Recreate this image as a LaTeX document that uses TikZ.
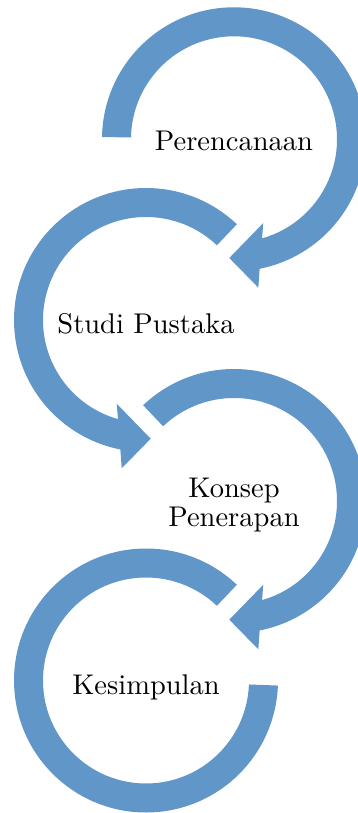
\documentclass[tikz,border=0pt]{standalone}
\usepackage{fontspec}
\setmainfont{lmroman10-regular}[Extension=.otf]
\usetikzlibrary{calc}
\begin{document}
\begin{tikzpicture}[x=1pt,y=-1pt,
  ringfill/.style={fill=ringblue,draw=none},
  lbl/.style={text=black,inner sep=0pt,font=\fontsize{28.5}{29}\selectfont}]
\definecolor{ringblue}{RGB}{97,150,200}
\useasboundingbox (0,0) rectangle (358,813);
\clip (0,0) rectangle (358,813);
\coordinate (c1) at (234,139.3);
\coordinate (c2) at (146,320);
\coordinate (c3) at (234,501);
\coordinate (c4) at (146,680.5);
% circle 1: starts at left, clockwise, arrowhead at bottom
\fill[ringfill] ($(c1)+(181:132)$) arc[start angle=181,end angle=438.8,radius=132]
  -- ($(c1)+(24.3,148.3)$) -- ($(c1)+(-4.7,118.7)$) -- ($(c1)+(29.3,83.7)$)
  -- ($(c1)+(434.2:103)$) arc[start angle=434.2,end angle=181,radius=103] -- cycle;
% circle 2: starts upper right, counterclockwise, arrowhead at bottom
\fill[ringfill] ($(c2)+(313.5:132)$) arc[start angle=313.5,end angle=101.2,radius=132]
  -- ($(c2)+(-24.3,148.3)$) -- ($(c2)+(4.7,118.7)$) -- ($(c2)+(-29.3,83.7)$)
  -- ($(c2)+(105.8:103)$) arc[start angle=105.8,end angle=313.5,radius=103] -- cycle;
% circle 3: starts upper left, clockwise, arrowhead at bottom
\fill[ringfill] ($(c3)+(226.5:132)$) arc[start angle=226.5,end angle=438.8,radius=132]
  -- ($(c3)+(24.3,148.3)$) -- ($(c3)+(-4.7,118.7)$) -- ($(c3)+(29.3,83.7)$)
  -- ($(c3)+(434.2:103)$) arc[start angle=434.2,end angle=226.5,radius=103] -- cycle;
% circle 4: starts upper right, counterclockwise, ends at right
\fill[ringfill] ($(c4)+(313.5:132)$) arc[start angle=313.5,end angle=2.2,radius=132]
  -- ($(c4)+(2.2:103)$) arc[start angle=2.2,end angle=313.5,radius=103] -- cycle;
\node[lbl,anchor=base] (t1) at (234,151) {Perencanaan};
\node[lbl,anchor=base] (t2) at (146,333) {Studi Pustaka};
\node[lbl,anchor=base] (t3) at (234,497.7) {\begin{tabular}[t]{@{}c@{}}Konsep\\Penerapan\end{tabular}};
\node[lbl,anchor=base] (t4) at (146,694) {Kesimpulan};
\end{tikzpicture}
\end{document}
